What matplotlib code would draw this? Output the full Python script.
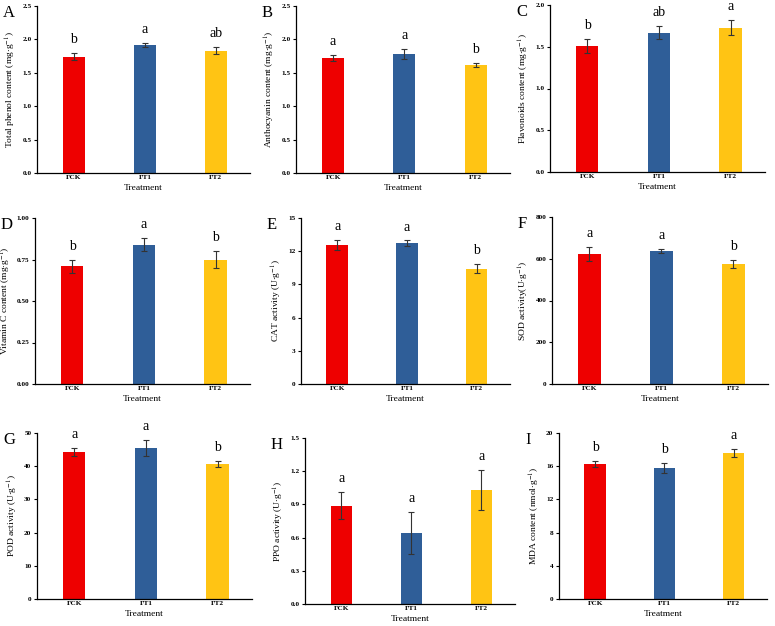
import matplotlib
matplotlib.use("Agg")
import matplotlib.pyplot as plt
from matplotlib.ticker import FormatStrFormatter

plt.rcParams['font.family'] = ['Liberation Serif', 'DejaVu Serif']
plt.rcParams['mathtext.fontset'] = 'stix'

treatments = ["FCK", "FT1", "FT2"]
colors = ["#EE0000", "#2F5E98", "#FFC414"]

phenol = [1.74, 1.92, 1.83]
phenol_err = [0.05, 0.03, 0.05]
phenol_sig = ["b", "a", "ab"]

antho = [1.72, 1.78, 1.62]
antho_err = [0.04, 0.07, 0.03]
antho_sig = ["a", "a", "b"]

flav = [1.51, 1.67, 1.73]
flav_err = [0.08, 0.08, 0.09]
flav_sig = ["b", "ab", "a"]

vitc = [0.71, 0.84, 0.75]
vitc_err = [0.04, 0.04, 0.05]
vitc_sig = ["b", "a", "b"]

cat = [12.55, 12.7, 10.42]
cat_err = [0.45, 0.27, 0.42]
cat_sig = ["a", "a", "b"]

sod = [623, 636, 575]
sod_err = [32, 9, 21]
sod_sig = ["a", "a", "b"]

pod = [44.3, 45.4, 40.6]
pod_err = [1.2, 2.4, 0.9]
pod_sig = ["a", "a", "b"]

ppo = [0.89, 0.64, 1.03]
ppo_err = [0.12, 0.19, 0.18]
ppo_sig = ["a", "a", "a"]

mda = [16.28, 15.84, 17.6]
mda_err = [0.4, 0.6, 0.5]
mda_sig = ["b", "b", "a"]

panels = [
    ("A", phenol, phenol_err, phenol_sig, "Total phenol content (mg$\\cdot$g$^{-1}$)", 2.5, 0.5, "%.1f", (37, 6, 250, 173)),
    ("B", antho, antho_err, antho_sig, "Anthocyanin content (mg$\\cdot$g$^{-1}$)", 2.5, 0.5, "%.1f", (296, 6, 510, 173)),
    ("C", flav, flav_err, flav_sig, "Flavonoids content (mg$\\cdot$g$^{-1}$)", 2.0, 0.5, "%.1f", (550, 5, 765, 172)),
    ("D", vitc, vitc_err, vitc_sig, "Vitamin C content (mg$\\cdot$g$^{-1}$)", 1.0, 0.25, "%.2f", (35, 218, 250, 384)),
    ("E", cat, cat_err, cat_sig, "CAT activity (U$\\cdot$g$^{-1}$)", 15, 3, "%d", (301, 218, 510, 384)),
    ("F", sod, sod_err, sod_sig, "SOD activity(U$\\cdot$g$^{-1}$)", 800, 200, "%d", (552, 217, 768, 384)),
    ("G", pod, pod_err, pod_sig, "POD activity (U$\\cdot$g$^{-1}$)", 50, 10, "%d", (37, 433, 252, 599)),
    ("H", ppo, ppo_err, ppo_sig, "PPO activity (U$\\cdot$g$^{-1}$)", 1.5, 0.3, "%.1f", (305, 438, 515, 604)),
    ("I", mda, mda_err, mda_sig, "MDA content (nmol$\\cdot$g$^{-1}$)", 20, 4, "%d", (559, 433, 767, 599)),
]

W, H = 775, 626
fig = plt.figure(figsize=(W / 100, H / 100), dpi=100)

for letter, vals, errs, sig, ylab, ymax, step, fmt, box in panels:
    l, t, r, b = box
    ax = fig.add_axes([l / W, 1 - b / H, (r - l) / W, (b - t) / H])
    x = range(len(treatments))
    ax.bar(x, vals, width=0.31, color=colors, yerr=errs,
           error_kw=dict(ecolor="#333333", elinewidth=0.8, capsize=2.2, capthick=0.8))
    for i in x:
        ax.annotate(sig[i], (i, vals[i] + errs[i]), xytext=(0, 5), textcoords="offset points",
                    ha="center", va="bottom", fontsize=10)
    ax.set_xlim(-0.52, 2.48)
    ax.set_ylim(0, ymax)
    ticks = [step * k for k in range(int(round(ymax / step)) + 1)]
    ax.set_yticks(ticks)
    ax.yaxis.set_major_formatter(FormatStrFormatter(fmt))
    ax.set_xticks(list(x))
    ax.set_xticklabels(treatments)
    for lab in ax.get_xticklabels() + ax.get_yticklabels():
        lab.set_fontweight("bold")
        lab.set_fontsize(5.2)
    ax.tick_params(axis="both", length=2.5, width=0.8, pad=1.5)
    ax.tick_params(axis="x", length=0)
    ax.spines["top"].set_visible(False)
    ax.spines["right"].set_visible(False)
    ax.spines["left"].set_linewidth(0.9)
    ax.spines["bottom"].set_linewidth(0.9)
    ax.set_ylabel(ylab, fontsize=6.8, labelpad=3)
    ax.set_xlabel("Treatment", fontsize=6.8, labelpad=3)
    fig.text((l - 34) / W, 1 - (t + 7) / H, letter, fontsize=12, ha="left", va="center")

fig.savefig("out.png", dpi=100)
